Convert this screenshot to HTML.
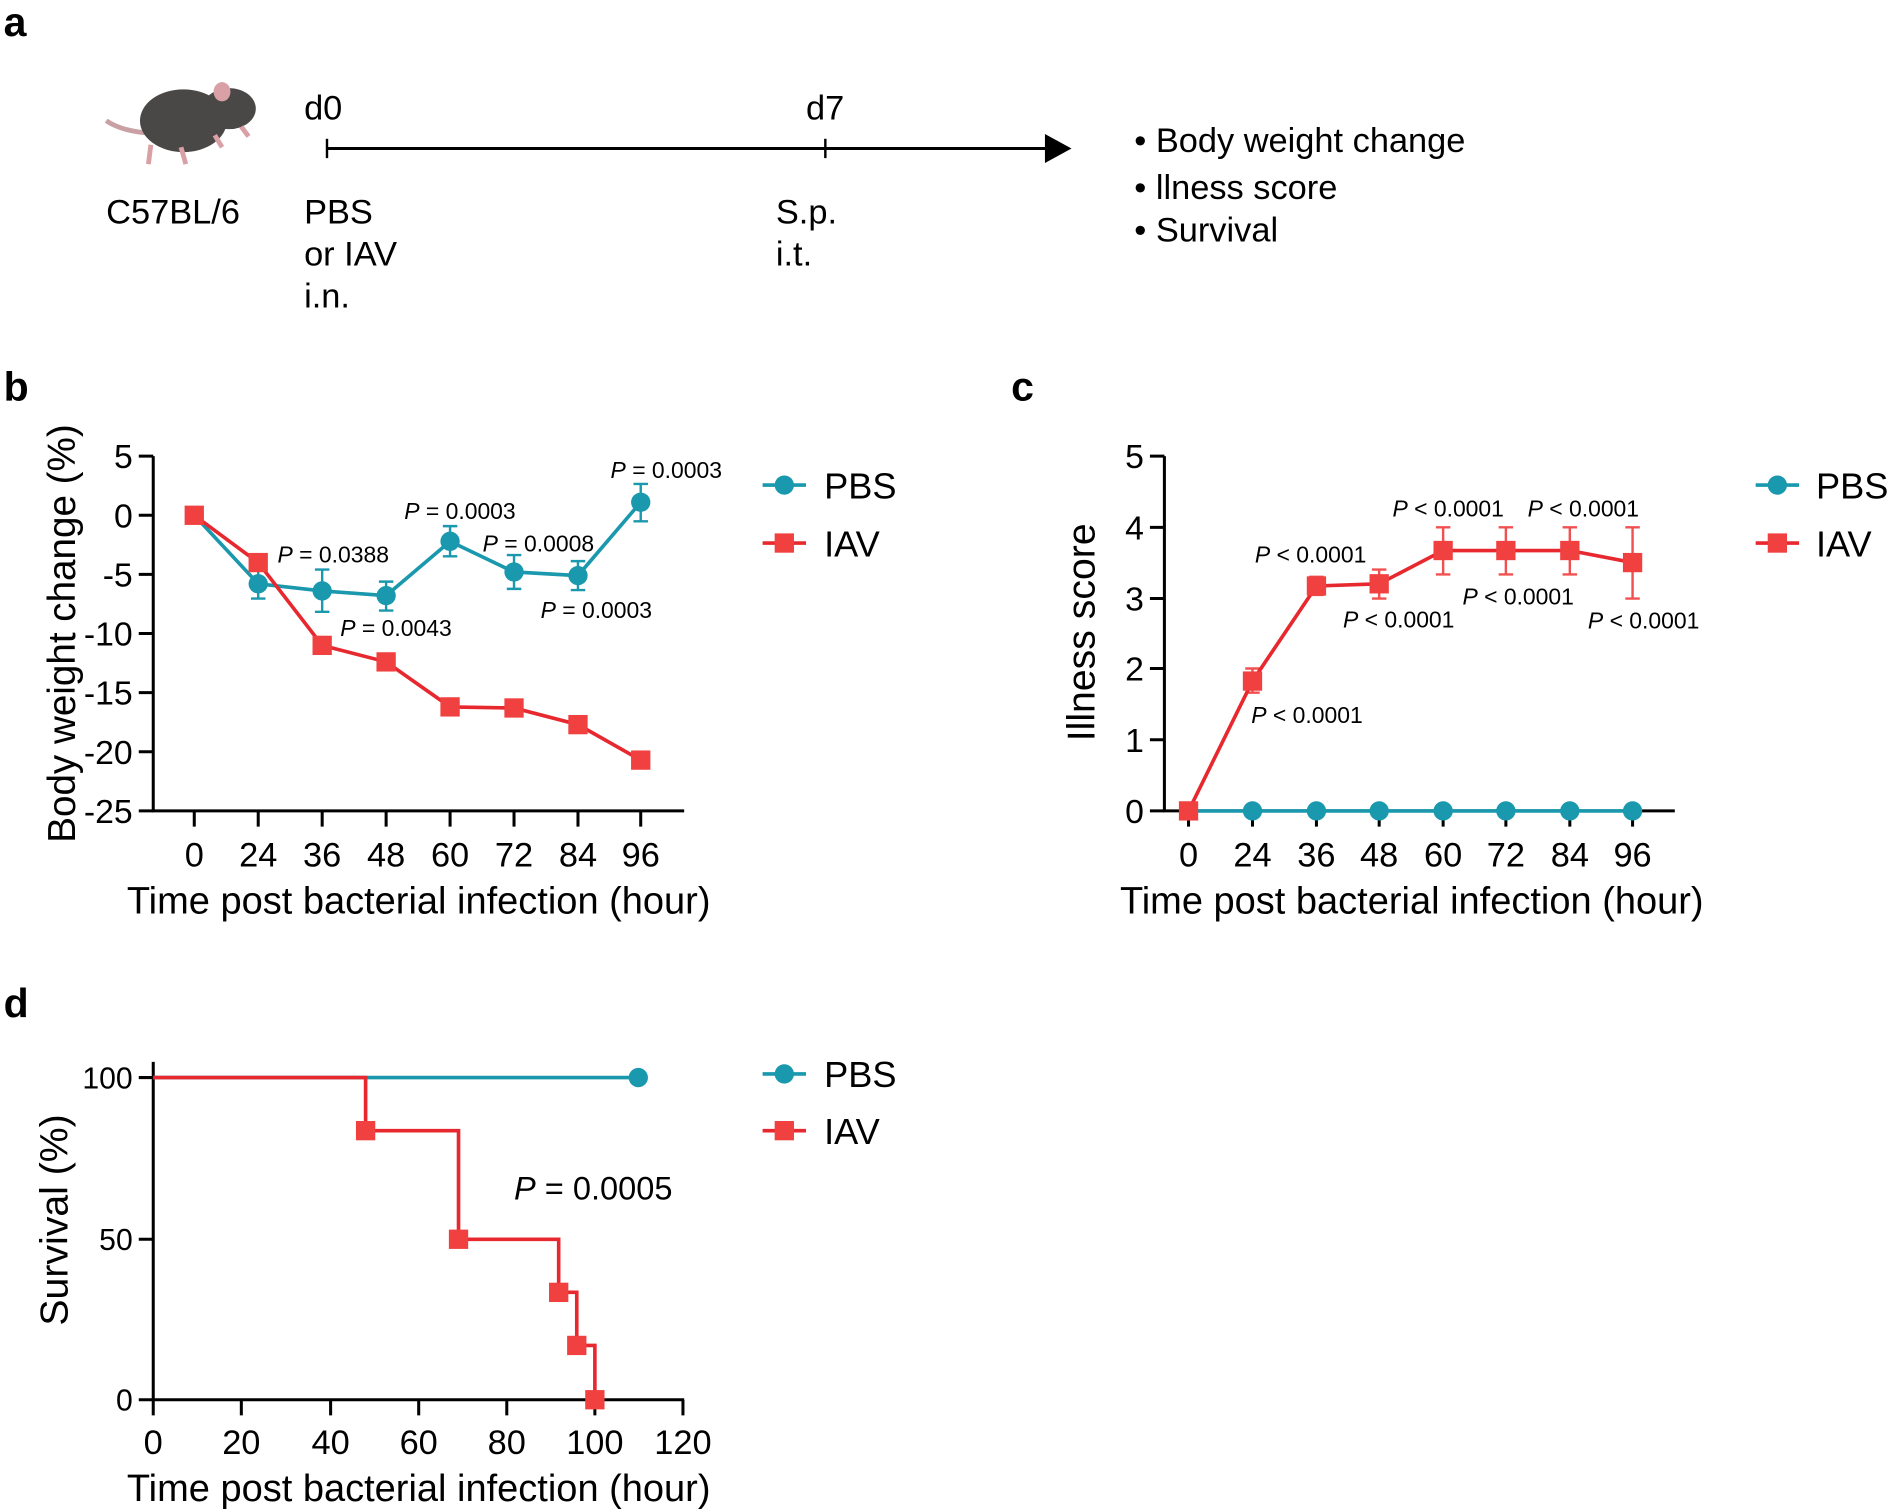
<!DOCTYPE html>
<html><head><meta charset="utf-8"><style>
html,body{margin:0;padding:0;background:#fff;}
svg{display:block;font-family:"Liberation Sans",Arial,sans-serif;}
</style></head><body>
<svg width="1892" height="1512" viewBox="0 0 1568 1253" xmlns="http://www.w3.org/2000/svg">
<g font-weight="bold" font-size="34" fill="#000">
<text x="3" y="30">a</text><text x="3" y="332">b</text><text x="838" y="332">c</text><text x="3" y="843">d</text>
</g>
<!-- panel a -->
<g>
<path d="M88 100 Q100 108 120 110" stroke="#c9a0a4" stroke-width="4" fill="none"/>
<ellipse cx="152" cy="100" rx="36" ry="26" fill="#4a4747"/>
<ellipse cx="190" cy="90" rx="22" ry="17" fill="#4a4747"/>
<ellipse cx="184" cy="76" rx="7" ry="8" fill="#d9a0a6"/>
<path d="M125 120 l-2 16 M150 122 l4 14 M178 112 l6 10 M200 105 l6 8" stroke="#d9a0a6" stroke-width="4"/>
</g>
<g font-size="28.5" fill="#000">
<text x="252" y="99">d0</text><text x="668" y="99">d7</text>
<text x="88" y="185">C57BL/6</text>
<text x="252" y="185">PBS</text><text x="252" y="220">or IAV</text><text x="252" y="255">i.n.</text>
<text x="643" y="185">S.p.</text><text x="643" y="220">i.t.</text>
<text x="940" y="126">• Body weight change</text>
<text x="940" y="165">• llness score</text>
<text x="940" y="200">• Survival</text>
</g>
<line x1="271" y1="123" x2="870" y2="123" stroke="#000" stroke-width="2.5"/>
<line x1="271" y1="115" x2="271" y2="131" stroke="#000" stroke-width="2"/>
<line x1="684" y1="115" x2="684" y2="131" stroke="#000" stroke-width="2"/>
<polygon points="866,111 888,123 866,135" fill="#000"/>

<!-- panel b -->
<g stroke="#000" stroke-width="2.5" fill="none">
<path d="M127 378 V672 H567"/>
<path d="M115 378H127M115 427H127M115 476H127M115 525H127M115 574H127M115 623H127M115 672H127"/>
<path d="M161 672v13M214 672v13M267 672v13M320 672v13M373 672v13M426 672v13M479 672v13M531 672v13"/>
</g>
<g font-size="28" text-anchor="end">
<text x="110" y="388">5</text><text x="110" y="437">0</text><text x="110" y="486">-5</text><text x="110" y="535">-10</text><text x="110" y="584">-15</text><text x="110" y="633">-20</text><text x="110" y="682">-25</text>
</g>
<g font-size="28.5" text-anchor="middle">
<text x="161" y="718">0</text><text x="214" y="718">24</text><text x="267" y="718">36</text><text x="320" y="718">48</text><text x="373" y="718">60</text><text x="426" y="718">72</text><text x="479" y="718">84</text><text x="531" y="718">96</text>
<text x="347" y="757" font-size="31.5">Time post bacterial infection (hour)</text>
<text transform="translate(62,525) rotate(-90)" font-size="32">Body weight change (%)</text>
</g>
<g stroke="#1a98ad" stroke-width="2" fill="none">
<path d="M214 471v25M208 471h12M208 496h12M267 472v35M261 472h12M261 507h12M320 482v24M314 482h12M314 506h12M373 436v25M367 436h12M367 461h12M426 460v28M420 460h12M420 488h12M479 465v24M473 465h12M473 489h12M531 401v31M525 401h12M525 432h12"/>
<polyline stroke-width="3" points="161,427 214,483.8 267,489.7 320,493.6 373,448.6 426,474 479,477 531,416.2"/>
</g>
<g fill="#1a98ad"><circle cx="214" cy="483.8" r="8"/><circle cx="267" cy="489.7" r="8"/><circle cx="320" cy="493.6" r="8"/><circle cx="373" cy="448.6" r="8"/><circle cx="426" cy="474" r="8"/><circle cx="479" cy="477" r="8"/><circle cx="531" cy="416.2" r="8"/></g>
<polyline fill="none" stroke="#e8282f" stroke-width="3" points="161,427 214,466.2 267,534.8 320,548.5 373,585.8 426,586.7 479,600.5 531,629.9"/>
<g fill="#f04040"><rect x="153" y="419" width="16" height="16"/><rect x="206" y="458.2" width="16" height="16"/><rect x="259" y="526.8" width="16" height="16"/><rect x="312" y="540.5" width="16" height="16"/><rect x="365" y="577.8" width="16" height="16"/><rect x="418" y="578.7" width="16" height="16"/><rect x="471" y="592.5" width="16" height="16"/><rect x="523" y="621.9" width="16" height="16"/></g>
<g font-size="19">
<text x="230" y="466"><tspan font-style="italic">P</tspan> = 0.0388</text>
<text x="282" y="527"><tspan font-style="italic">P</tspan> = 0.0043</text>
<text x="335" y="430"><tspan font-style="italic">P</tspan> = 0.0003</text>
<text x="400" y="457"><tspan font-style="italic">P</tspan> = 0.0008</text>
<text x="448" y="512"><tspan font-style="italic">P</tspan> = 0.0003</text>
<text x="506" y="396"><tspan font-style="italic">P</tspan> = 0.0003</text>
</g>
<g font-size="30">
<line x1="632" y1="402" x2="668" y2="402" stroke="#1a98ad" stroke-width="3"/><circle cx="650" cy="402" r="8" fill="#1a98ad"/><text x="683" y="413">PBS</text>
<line x1="632" y1="450" x2="668" y2="450" stroke="#e8282f" stroke-width="3"/><rect x="642" y="442" width="16" height="16" fill="#f04040"/><text x="683" y="461">IAV</text>
</g>

<!-- panel c -->
<g stroke="#000" stroke-width="2.5" fill="none">
<path d="M965 378 V672 H1388"/>
<path d="M953 378H965M953 437H965M953 496H965M953 554H965M953 613H965M953 672H965"/>
<path d="M985 672v13M1038 672v13M1091 672v13M1143 672v13M1196 672v13M1248 672v13M1301 672v13M1353 672v13"/>
</g>
<g font-size="28" text-anchor="end">
<text x="948" y="388">5</text><text x="948" y="447">4</text><text x="948" y="506">3</text><text x="948" y="564">2</text><text x="948" y="623">1</text><text x="948" y="682">0</text>
</g>
<g font-size="28.5" text-anchor="middle">
<text x="985" y="718">0</text><text x="1038" y="718">24</text><text x="1091" y="718">36</text><text x="1143" y="718">48</text><text x="1196" y="718">60</text><text x="1248" y="718">72</text><text x="1301" y="718">84</text><text x="1353" y="718">96</text>
<text x="1170" y="757" font-size="31.5">Time post bacterial infection (hour)</text>
<text transform="translate(907,524) rotate(-90)" font-size="32.5">Illness score</text>
</g>
<polyline fill="none" stroke="#1a98ad" stroke-width="3" points="985,672 1353,672"/>
<g fill="#1a98ad"><circle cx="1038" cy="672" r="8"/><circle cx="1091" cy="672" r="8"/><circle cx="1143" cy="672" r="8"/><circle cx="1196" cy="672" r="8"/><circle cx="1248" cy="672" r="8"/><circle cx="1301" cy="672" r="8"/><circle cx="1353" cy="672" r="8"/></g>
<g stroke="#f05050" stroke-width="2" fill="none">
<path d="M1038 554v20M1032 554h12M1032 574h12M1091 478v15M1085 478h12M1085 493h12M1143 472v24M1137 472h12M1137 496h12M1196 437v39M1190 437h12M1190 476h12M1248 437v39M1242 437h12M1242 476h12M1301 437v39M1295 437h12M1295 476h12M1353 437v59M1347 437h12M1347 496h12"/>
</g>
<polyline fill="none" stroke="#e8282f" stroke-width="3" points="985,672 1038,564.4 1091,485.6 1143,483.8 1196,456.2 1248,456.2 1301,456.2 1353,466.2"/>
<g fill="#f04040"><rect x="977" y="664" width="16" height="16"/><rect x="1030" y="556.4" width="16" height="16"/><rect x="1083" y="477.6" width="16" height="16"/><rect x="1135" y="475.8" width="16" height="16"/><rect x="1188" y="448.2" width="16" height="16"/><rect x="1240" y="448.2" width="16" height="16"/><rect x="1293" y="448.2" width="16" height="16"/><rect x="1345" y="458.2" width="16" height="16"/></g>
<g font-size="19">
<text x="1037" y="599"><tspan font-style="italic">P</tspan> &lt; 0.0001</text>
<text x="1040" y="466"><tspan font-style="italic">P</tspan> &lt; 0.0001</text>
<text x="1113" y="520"><tspan font-style="italic">P</tspan> &lt; 0.0001</text>
<text x="1154" y="428"><tspan font-style="italic">P</tspan> &lt; 0.0001</text>
<text x="1212" y="501"><tspan font-style="italic">P</tspan> &lt; 0.0001</text>
<text x="1266" y="428"><tspan font-style="italic">P</tspan> &lt; 0.0001</text>
<text x="1316" y="521"><tspan font-style="italic">P</tspan> &lt; 0.0001</text>
</g>
<g font-size="30">
<line x1="1455" y1="402" x2="1491" y2="402" stroke="#1a98ad" stroke-width="3"/><circle cx="1473" cy="402" r="8" fill="#1a98ad"/><text x="1505" y="413">PBS</text>
<line x1="1455" y1="450" x2="1491" y2="450" stroke="#e8282f" stroke-width="3"/><rect x="1465" y="442" width="16" height="16" fill="#f04040"/><text x="1505" y="461">IAV</text>
</g>

<!-- panel d -->
<g stroke="#000" stroke-width="2.5" fill="none">
<path d="M127 880 V1160 H567"/>
<path d="M115 893H127M115 1027H127M115 1160H127"/>
<path d="M127 1160v13M200 1160v13M274 1160v13M347 1160v13M420 1160v13M493 1160v13M566 1160v13"/>
</g>
<g font-size="25" text-anchor="end">
<text x="110" y="902">100</text><text x="110" y="1036">50</text><text x="110" y="1169">0</text>
</g>
<g font-size="28.5" text-anchor="middle">
<text x="127" y="1205">0</text><text x="200" y="1205">20</text><text x="274" y="1205">40</text><text x="347" y="1205">60</text><text x="420" y="1205">80</text><text x="493" y="1205">100</text><text x="566" y="1205">120</text>
<text x="347" y="1244" font-size="31.5">Time post bacterial infection (hour)</text>
<text transform="translate(56,1011) rotate(-90)" font-size="32.5">Survival (%)</text>
</g>
<line x1="127" y1="893" x2="529" y2="893" stroke="#1a98ad" stroke-width="3"/>
<circle cx="529" cy="893" r="8" fill="#1a98ad"/>
<polyline fill="none" stroke="#e8282f" stroke-width="3" points="127,893 303,893 303,937 380,937 380,1027 463,1027 463,1071 478,1071 478,1115 493,1115 493,1160"/>
<g fill="#f04040"><rect x="295" y="929" width="16" height="16"/><rect x="372" y="1019" width="16" height="16"/><rect x="455" y="1063" width="16" height="16"/><rect x="470" y="1107" width="16" height="16"/><rect x="485" y="1152" width="16" height="16"/></g>
<text x="426" y="994" font-size="27"><tspan font-style="italic">P</tspan> = 0.0005</text>
<g font-size="30">
<line x1="632" y1="890" x2="668" y2="890" stroke="#1a98ad" stroke-width="3"/><circle cx="650" cy="890" r="8" fill="#1a98ad"/><text x="683" y="901">PBS</text>
<line x1="632" y1="937" x2="668" y2="937" stroke="#e8282f" stroke-width="3"/><rect x="642" y="929" width="16" height="16" fill="#f04040"/><text x="683" y="948">IAV</text>
</g>
</svg>
</body></html>
